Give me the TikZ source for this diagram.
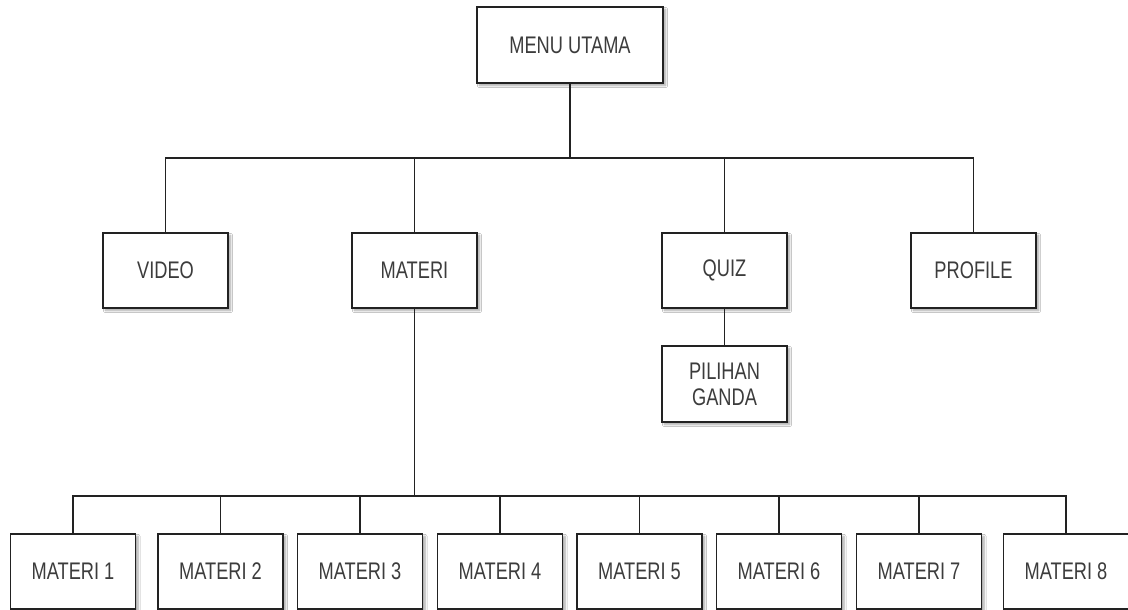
\documentclass[tikz,border=0pt]{standalone}
\usepackage{fontspec}
\setmainfont{Liberation Sans}[FakeStretch=0.76]
\usetikzlibrary{shadows.blur}
\definecolor{txtgray}{HTML}{3C3C3C}
\definecolor{linegray}{HTML}{222222}
\begin{document}
\begin{tikzpicture}[x=1pt,y=-1pt,
  box/.style={draw=linegray, line width=1.3pt, fill=white, rectangle,
    minimum width=125pt, minimum height=75pt, inner sep=2pt,
    text=txtgray, align=center, font=\fontsize{24}{26}\selectfont,
    blur shadow={shadow xshift=2.5pt, shadow yshift=-2.5pt, shadow blur steps=6, shadow opacity=35}},
  conn/.style={draw=linegray, line width=1.3pt}]
\useasboundingbox[fill=white] (0,0) rectangle (1128,610);
\node[box, minimum width=186pt, minimum height=76pt] (menu) at (570,45) {MENU UTAMA};
\node[box] (video) at (165.5,270.5) {VIDEO};
\node[box] (materi) at (414.5,270.5) {MATERI};
\node[box] (quiz) at (724.5,270.5) {QUIZ};
\node[box] (profile) at (973.5,270.5) {PROFILE};
\node[box, minimum height=76pt] (pg) at (724.5,384) {PILIHAN\\GANDA};
\node[box] (m1) at (73,571.5) {MATERI 1};
\node[box] (m2) at (220.5,571.5) {MATERI 2};
\node[box] (m3) at (360,571.5) {MATERI 3};
\node[box] (m4) at (500,571.5) {MATERI 4};
\node[box] (m5) at (639.5,571.5) {MATERI 5};
\node[box] (m6) at (779,571.5) {MATERI 6};
\node[box] (m7) at (919,571.5) {MATERI 7};
\node[box] (m8) at (1066,571.5) {MATERI 8};
\coordinate (topbus) at (570,158);
\coordinate (botbus) at (414.5,496);
\begin{scope}[on background layer/.style={}]
\draw[conn] (menu.south) -- (menu.south |- topbus);
\draw[conn] (video.north) |- (profile.north |- topbus) -- (profile.north);
\draw[conn] (materi.north) -- (materi.north |- topbus);
\draw[conn] (quiz.north) -- (quiz.north |- topbus);
\draw[conn] (quiz.south) -- (pg.north);
\draw[conn] (materi.south) -- (materi.south |- botbus);
\draw[conn] (m1.north) |- (m8.north |- botbus) -- (m8.north);
\foreach \m in {m2,m3,m4,m5,m6,m7} {\draw[conn] (\m.north) -- (\m.north |- botbus);}
\end{scope}
\end{tikzpicture}
\end{document}
